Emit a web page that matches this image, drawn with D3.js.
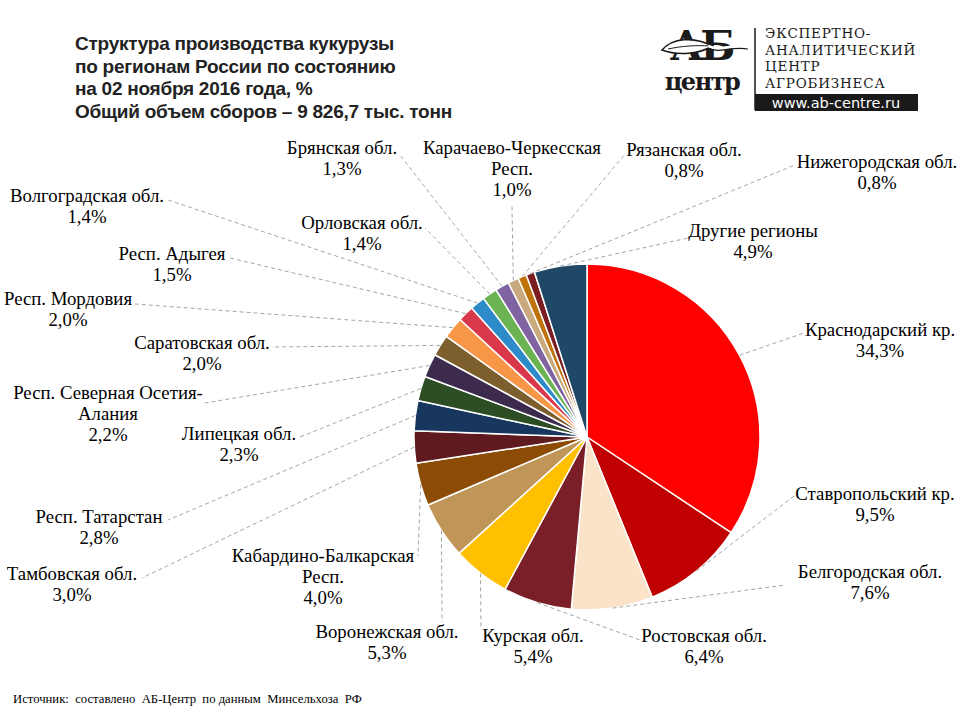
<!DOCTYPE html>
<html><head><meta charset="utf-8">
<script src="https://cdn.jsdelivr.net/npm/d3@7"></script>
</head><body style="margin:0">
<script>
// ---- data ----
const regions = ["Краснодарский кр.","Ставропольский кр.","Белгородская обл.","Ростовская обл.","Курская обл.","Воронежская обл.","Кабардино-Балкарская\nРесп.","Тамбовская обл.","Респ. Татарстан","Липецкая обл.","Респ. Северная Осетия-\nАлания","Саратовская обл.","Респ. Мордовия","Респ. Адыгея","Волгоградская обл.","Орловская обл.","Брянская обл.","Карачаево-Черкесская\nРесп.","Рязанская обл.","Нижегородская обл.","Другие регионы"];
const shares = [34.3,9.5,7.6,6.4,5.4,5.3,4.0,3.0,2.8,2.3,2.2,2.0,2.0,1.5,1.4,1.4,1.3,1.0,0.8,0.8,4.9];
const colors = ["#FF0000","#C00000","#FAE3C8","#7A1E28","#FFC000","#C09558","#8C4C06","#5E1A1F","#17375E","#2D4E24","#3D2B4D","#7D5F2E","#F79646","#D9384B","#2E8BC9","#6CB353","#8064A2","#C8AA7E","#C0720A","#7A1E22","#1F4866"];
// label layout: [centerX, firstBaseline, leaderEndX, leaderEndY]
const labelLayout = [[880,336,804,333],[875,500,794,496],[870,578,785,585],[704,642,640,640],[533,642,481,630],[387,638,442,622],[323,562,418,556],[72,580,142,578],[99,523,168,520],[239,440,300,437],[108,399,205,403],[202,349,272,347],[68,305,135,304],[172,260,230,258],[87,202,168,200],[362,229,425,228],[342,154,400,155],[512,154,512,205],[684,156,626,153],[877,168,795,165],[753,237,688,238]];
const titleLines = ["Структура производства кукурузы","по регионам России по состоянию","на 02 ноября 2016 года, %","Общий объем сборов – 9 826,7 тыс. тонн"];
const logoLines = ["ЭКСПЕРТНО-","АНАЛИТИЧЕСКИЙ","ЦЕНТР","АГРОБИЗНЕСА"];

const W=960,H=720;
const svg=d3.select("body").append("svg").attr("width",W).attr("height",H);
const cx=587, cy=437, R=173;
const fmt = v => v.toFixed(1).replace(".",",")+"%";

const data = shares.map((v,i)=>({name:regions[i],value:v,color:colors[i],pos:labelLayout[i]}));
const pie=d3.pie().sort(null).value(d=>d.value);
const arcs=pie(data);
const arc=d3.arc().innerRadius(0).outerRadius(R);
const edge=d3.arc().innerRadius(R).outerRadius(R);

svg.append("rect").attr("width",W).attr("height",H).attr("fill","#fff");
const g=svg.append("g").attr("transform",`translate(${cx},${cy})`);

// leaders
svg.append("g").selectAll("line").data(arcs).join("line")
  .attr("x1",d=>cx+edge.centroid(d)[0]).attr("y1",d=>cy+edge.centroid(d)[1])
  .attr("x2",d=>d.data.pos[2]).attr("y2",d=>d.data.pos[3])
  .attr("stroke","#A6A6A6").attr("stroke-width",1).attr("stroke-dasharray","4,3");

g.selectAll("path").data(arcs).join("path")
  .attr("d",arc).attr("fill",d=>d.data.color)
  .attr("stroke","#FFFFFF").attr("stroke-width",1.5).attr("stroke-linejoin","round");

// labels
arcs.forEach(d=>{
  const lines=d.data.name.split("\n").concat([fmt(d.data.value)]);
  lines.forEach((l,i)=>svg.append("text").attr("font-family","Times New Roman").attr("font-size",18.8)
    .attr("fill","#000").attr("text-anchor","middle")
    .attr("x",d.data.pos[0]).attr("y",d.data.pos[1]+i*21).text(l));
});

// title
titleLines.forEach((l,i)=>svg.append("text").attr("font-family","Liberation Sans")
  .attr("font-weight","bold").attr("font-size",19).attr("fill","#222").attr("letter-spacing",-0.25)
  .attr("x",75).attr("y",50+i*22.5).text(l));

// logo
svg.append("text").attr("x",701).attr("y",60).attr("text-anchor","middle")
  .attr("font-family","DejaVu Serif").attr("font-weight","bold").attr("font-size",41)
  .attr("letter-spacing",-3).attr("fill","#1a1a1a").text("АБ");
svg.append("path").attr("d","M662,50 C672,38 694,36 712,46 C700,54 678,56 662,50 Z")
  .attr("fill","#fff").attr("stroke","#1a1a1a").attr("stroke-width",1.6);
svg.append("path").attr("d","M668,49 C682,46 696,45 710,46")
  .attr("fill","none").attr("stroke","#1a1a1a").attr("stroke-width",1);
svg.append("path").attr("d","M708,46 C720,52 730,44 748,47")
  .attr("fill","none").attr("stroke","#fff").attr("stroke-width",3);
svg.append("path").attr("d","M708,48 C720,54 730,46 748,49")
  .attr("fill","none").attr("stroke","#1a1a1a").attr("stroke-width",1.2);
svg.append("text").attr("x",702).attr("y",90).attr("text-anchor","middle")
  .attr("font-family","DejaVu Serif").attr("font-weight","bold").attr("font-size",24)
  .attr("letter-spacing",-1.5).attr("fill","#1a1a1a").text("центр");
svg.append("line").attr("x1",755).attr("x2",755).attr("y1",28).attr("y2",110).attr("stroke","#1a1a1a").attr("stroke-width",1.5);
logoLines.forEach((l,i)=>svg.append("text").attr("font-family","DejaVu Serif").attr("font-size",13.5)
  .attr("fill","#1a1a1a").attr("letter-spacing",0.8).attr("x",765).attr("y",38+i*16.7).text(l));
svg.append("rect").attr("x",755).attr("y",94).attr("width",163).attr("height",17).attr("fill","#1a1a1a");
svg.append("text").attr("x",836).attr("y",108).attr("text-anchor","middle")
  .attr("font-family","DejaVu Sans").attr("font-size",14.5).attr("fill","#fff").text("www.ab-centre.ru");

// footer
svg.append("text").attr("font-family","Times New Roman").attr("x",13).attr("y",703)
  .attr("font-size",12.7).attr("fill","#000").attr("xml:space","preserve")
  .text("Источник:  составлено  АБ-Центр  по данным  Минсельхоза  РФ");
</script>
</body></html>
